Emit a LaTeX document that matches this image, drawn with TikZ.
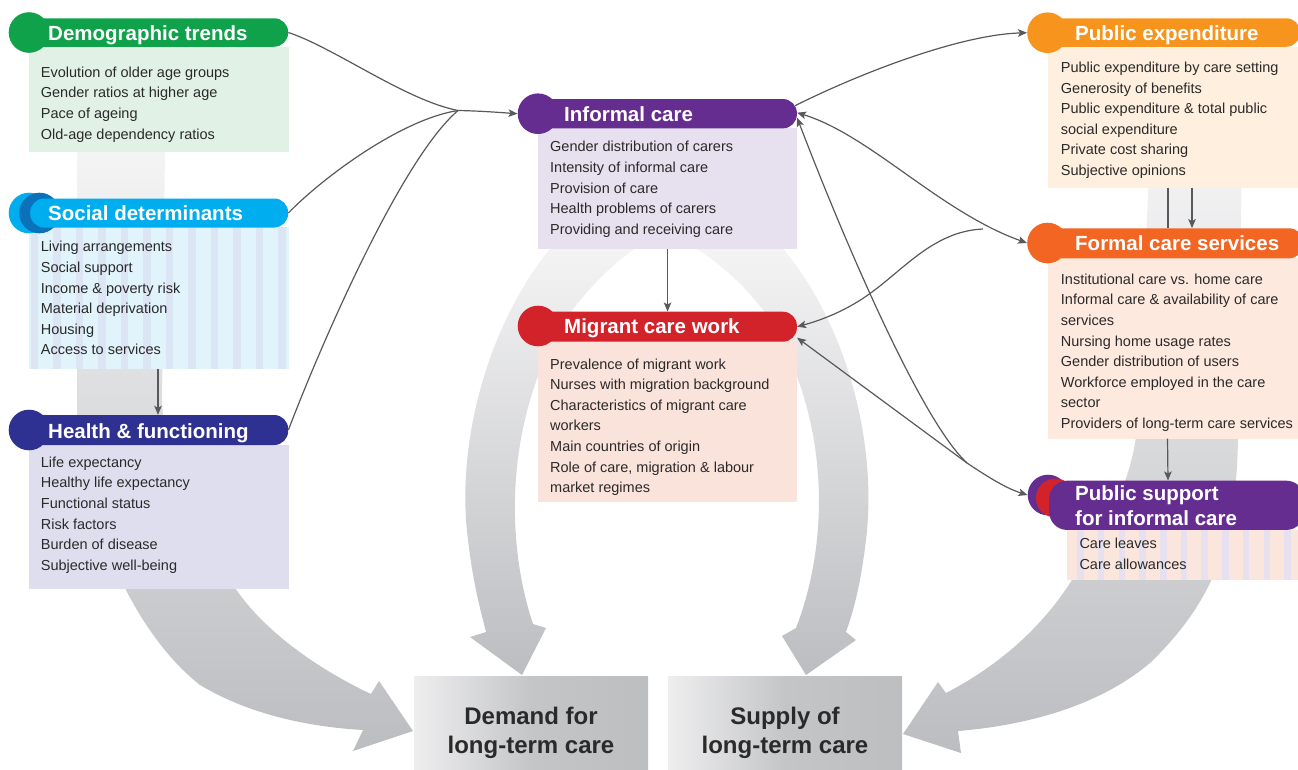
\documentclass[tikz,border=0pt]{standalone}
\usepackage{fontspec}
\setmainfont{Liberation Sans}
\usetikzlibrary{arrows.meta}

\definecolor{txt}{HTML}{2B2A2A}
\definecolor{linegrey}{HTML}{58595B}
\definecolor{flowlight}{HTML}{F4F4F5}
\definecolor{flowdark}{HTML}{BCBDC0}
\definecolor{demogreen}{HTML}{10A24B}
\definecolor{demobg}{HTML}{E2F1E6}
\definecolor{soccyan}{HTML}{00AEEF}
\definecolor{socblue}{HTML}{0A72BA}
\definecolor{socbgA}{HTML}{E1F3FB}
\definecolor{socbgB}{HTML}{DCE5F3}
\definecolor{hfnavy}{HTML}{2E3192}
\definecolor{hfbg}{HTML}{DFDEEF}
\definecolor{infpurple}{HTML}{662D91}
\definecolor{infbg}{HTML}{E7E0EF}
\definecolor{migred}{HTML}{D2232A}
\definecolor{migbg}{HTML}{FAE3DB}
\definecolor{peorange}{HTML}{F7941D}
\definecolor{pebg}{HTML}{FEEFDF}
\definecolor{fcorange}{HTML}{F26522}
\definecolor{fcbg}{HTML}{FDE9DE}
\definecolor{psbgA}{HTML}{FBE6DD}
\definecolor{psbgB}{HTML}{E6E0EF}
\definecolor{boxlight}{HTML}{EEEEEF}
\definecolor{boxgrey}{HTML}{BDBEC0}

\tikzset{
  >={Stealth[length=9pt,width=7.5pt,inset=2pt]},
  conn/.style={draw=linegrey, line width=1.2pt},
  bar/.style={rectangle, rounded corners=14pt, inner sep=0pt, minimum height=29pt, anchor=west},
  dot/.style={circle, inner sep=0pt, minimum size=40.6pt},
  body/.style={rectangle, inner sep=0pt, anchor=north west},
  title/.style={anchor=base west, inner sep=0pt, text=white, font=\bfseries\fontsize{20.5}{25}\selectfont},
  items/.style={anchor=north west, inner sep=0pt, align=left, text=txt, font=\fontsize{14.5}{20.6}\selectfont},
  bigtxt/.style={anchor=north, inner sep=0pt, align=center, text=txt, font=\bfseries\fontsize{24}{28.5}\selectfont},
  flow/.style={top color=flowlight, bottom color=flowdark},
  outcome/.style={rectangle, inner sep=0pt, anchor=north west, left color=boxlight, right color=boxgrey, middle color=boxgrey!85!boxlight},
}

\begin{document}
\begin{tikzpicture}[x=1pt, y=-1pt]
\useasboundingbox (0,0) rectangle (1298,769);

% ---------- broad grey flows towards demand and supply ----------
% left flow: demand side factors
\shade[flow] (77,150) -- (77,400)
  .. controls (80,510) and (130,630) .. (200,685)
  .. controls (250,715) and (310,727) .. (363,730)
  -- (353,751) -- (413,731) -- (379,681) -- (371,694)
  .. controls (320,670) and (260,630) .. (230,580)
  .. controls (190,520) and (165,470) .. (162,400)
  -- (165,150) -- cycle;
% right flow: supply side factors
\shade[flow] (1242,150) -- (1238,440)
  .. controls (1236,540) and (1215,600) .. (1150,663)
  .. controls (1100,705) and (1030,725) .. (958,731)
  -- (961,753) -- (903,734) -- (938,682) -- (946,693)
  .. controls (1000,665) and (1045,625) .. (1075,575)
  .. controls (1110,520) and (1133,480) .. (1138,420)
  -- (1150,150) -- cycle;
% central flows from informal care / migrant care work
\shade[flow] (553,245) .. controls (490,320) and (455,440) .. (468,540)
  .. controls (474,590) and (482,615) .. (486,632)
  -- (470,637) -- (522,675) -- (546,628) -- (533,624)
  .. controls (505,540) and (505,420) .. (565,320)
  .. controls (590,285) and (615,262) .. (640,245) -- cycle;
\shade[flow] (780,245) .. controls (845,320) and (878,440) .. (866,540)
  .. controls (860,590) and (852,615) .. (846,632)
  -- (856,640) -- (806,675) -- (782,636) -- (796,628)
  .. controls (830,540) and (830,420) .. (770,320)
  .. controls (750,290) and (720,262) .. (690,245) -- cycle;

% ---------- outcome boxes ----------
\node[outcome, minimum width=234pt, minimum height=95pt] (demand) at (414,676.5) {};
\node[outcome, minimum width=234pt, minimum height=95pt] (supply) at (668,676.5) {};
\node[bigtxt] (demandtxt) at (531,707) {Demand for\\long-term care};
\node[bigtxt] (supplytxt) at (785,707) {Supply of\\long-term care};

% ---------- Demographic trends ----------
\node[body, fill=demobg, minimum width=259.3pt, minimum height=105pt] (demobody) at (29,46.7) {};
\node[bar, fill=demogreen, minimum width=259pt, minimum height=28.5pt] (demobar) at (29,32.5) {};
\node[dot, fill=demogreen] (democirc) at (29,32.5) {};
\node[title] (demotitle) at (48,40) {Demographic trends};
\node[items] (demotxt) at (40.7,66.6) {Evolution of older age groups\\Gender ratios at higher age\\Pace of ageing\\Old-age dependency ratios};

% ---------- Social determinants ----------
\node[body, fill=socbgA, minimum width=259.3pt, minimum height=141.3pt,
  path picture={\foreach \k in {0,...,11}
    \fill[socbgB] ([xshift=1.5pt+\k*22.5pt]path picture bounding box.north west)
      rectangle ([xshift=9pt+\k*22.5pt]path picture bounding box.south west);}] (socbody) at (29,227) {};
\node[dot, fill=soccyan] (soccircA) at (29,213) {};
\node[dot, fill=socblue] (soccircB) at (39.5,213) {};
\node[bar, fill=soccyan, minimum width=258pt] (socbar) at (30,213) {};
\node[title] (soctitle) at (48,220.5) {Social determinants};
\node[items] (soctxt) at (40.7,241.2) {Living arrangements\\Social support\\Income \& poverty risk\\Material deprivation\\Housing\\Access to services};

% ---------- Health & functioning ----------
\node[body, fill=hfbg, minimum width=259.3pt, minimum height=143.3pt] (hfbody) at (29,445) {};
\node[bar, fill=hfnavy, minimum width=259pt, minimum height=30pt] (hfbar) at (29,430) {};
\node[dot, fill=hfnavy] (hfcirc) at (29,430) {};
\node[title] (hftitle) at (48,438.3) {Health \& functioning};
\node[items] (hftxt) at (40.7,456.6) {Life expectancy\\Healthy life expectancy\\Functional status\\Risk factors\\Burden of disease\\Subjective well-being};

% ---------- Informal care ----------
\node[body, fill=infbg, minimum width=258.7pt, minimum height=120.3pt] (infbody) at (538,128) {};
\node[bar, fill=infpurple, minimum width=258.7pt, minimum height=29.3pt] (infbar) at (538,113.7) {};
\node[dot, fill=infpurple] (infcirc) at (538,113.7) {};
\node[title] (inftitle) at (564,121) {Informal care};
\node[items] (inftxt) at (550,141.2) {Gender distribution of carers\\Intensity of informal care\\Provision of care\\Health problems of carers\\Providing and receiving care};

% ---------- Migrant care work ----------
\node[body, fill=migbg, minimum width=258.7pt, minimum height=160.7pt] (migbody) at (538,341) {};
\node[bar, fill=migred, minimum width=258.7pt, minimum height=30pt] (migbar) at (538,326.7) {};
\node[dot, fill=migred] (migcirc) at (538,326) {};
\node[title] (migtitle) at (564,333.3) {Migrant care work};
\node[items] (migtxt) at (550,358.3) {Prevalence of migrant work\\Nurses with migration background\\Characteristics of migrant care\\workers\\Main countries of origin\\Role of care, migration \& labour\\market regimes};

% ---------- Public expenditure ----------
\node[body, fill=pebg, minimum width=252pt, minimum height=140.6pt] (pebody) at (1048,46.7) {};
\node[bar, fill=peorange, minimum width=252pt, minimum height=28.5pt] (pebar) at (1048,32.5) {};
\node[dot, fill=peorange] (pecirc) at (1047.5,32.7) {};
\node[title] (petitle) at (1075,40.6) {Public expenditure};
\node[items] (petxt) at (1060.7,61.8) {Public expenditure by care setting\\Generosity of benefits\\Public expenditure \& total public\\social expenditure\\Private cost sharing\\Subjective opinions};

% ---------- Formal care services ----------
\node[body, fill=fcbg, minimum width=252.5pt, minimum height=180.3pt] (fcbody) at (1047.5,258) {};
\node[bar, fill=fcorange, minimum width=255pt, minimum height=30pt] (fcbar) at (1048,243.3) {};
\node[dot, fill=fcorange] (fccirc) at (1047.5,243) {};
\node[title] (fctitle) at (1075,250) {Formal care services};
\node[items] (fctxt) at (1060.7,273.5) {Institutional care vs. home care\\Informal care \& availability of care\\services\\Nursing home usage rates\\Gender distribution of users\\Workforce employed in the care\\sector\\Providers of long-term care services};

% ---------- Public support for informal care ----------
\node[body, fill=psbgA, minimum width=233pt, minimum height=49.3pt,
  path picture={\foreach \k in {0,...,11}
    \fill[psbgB] ([xshift=10pt+\k*20.7pt]path picture bounding box.north west)
      rectangle ([xshift=16.5pt+\k*20.7pt]path picture bounding box.south west);}] (psbody) at (1067,530) {};
\node[dot, fill=infpurple] (pscirc) at (1048,495) {};
\node[dot, fill=migred, minimum size=39pt] (pscircB) at (1055.5,498) {};
\node[bar, fill=infpurple, rounded corners=18pt, minimum width=255pt, minimum height=49.3pt] (psbar) at (1049,505.3) {};
\node[title, anchor=north west, align=left] (pstitle) at (1075,485.3) {Public support\\for informal care};
\node[items] (pstxt) at (1079.3,537.8) {Care leaves\\Care allowances};

% ---------- connectors ----------
\coordinate (mL) at (458,110.5);
\coordinate (mF) at (983,229);
\coordinate (mP) at (967,463);

\draw[conn] (demobar.east) .. controls (335,48) and (405,100) .. (mL);
\draw[conn] (socbar.east) .. controls (318,182) and (398,120) .. (mL);
\draw[conn] (hfbar.east) .. controls (318,352) and (400,160) .. (mL);
\draw[conn,->] (mL) .. controls (482,111) and (500,112.5) .. (infcirc.west);

\draw[conn,->] ([xshift=-2pt,yshift=8pt]infbar.east) .. controls (850,78) and (955,35) .. (pecirc.west);
\draw[conn,<->] ([yshift=1pt]infbar.east) .. controls (870,135) and (940,212) .. (fccirc.west);
\draw[conn,->] (mF) .. controls (935,231) and (905,268) .. (872,292)
  .. controls (848,310) and (822,320) .. (migbar.east);
\draw[conn,<-] ([yshift=-4pt]infbar.east) .. controls (840,230) and (920,420) .. (mP);
\draw[conn,<-] ([yshift=-11pt]migbar.east) -- (mP);
\draw[conn,->] (mP) .. controls (985,475) and (1005,488) .. (pscirc.west);

\draw[conn,->] ([xshift=129pt]socbody.south west) -- ([xshift=129pt]hfbar.north west);
\draw[conn,->] (infbody.south) -- (migbar.north);
\draw[conn] ([xshift=120pt]pebody.south west) -- ([xshift=120pt]fcbar.north west);
\draw[conn,->] ([xshift=144pt]pebody.south west) -- ([xshift=144pt]fcbar.north west);
\draw[conn,->] ([xshift=120pt]fcbody.south west) -- ([xshift=119pt]psbar.north west);

\end{tikzpicture}
\end{document}
